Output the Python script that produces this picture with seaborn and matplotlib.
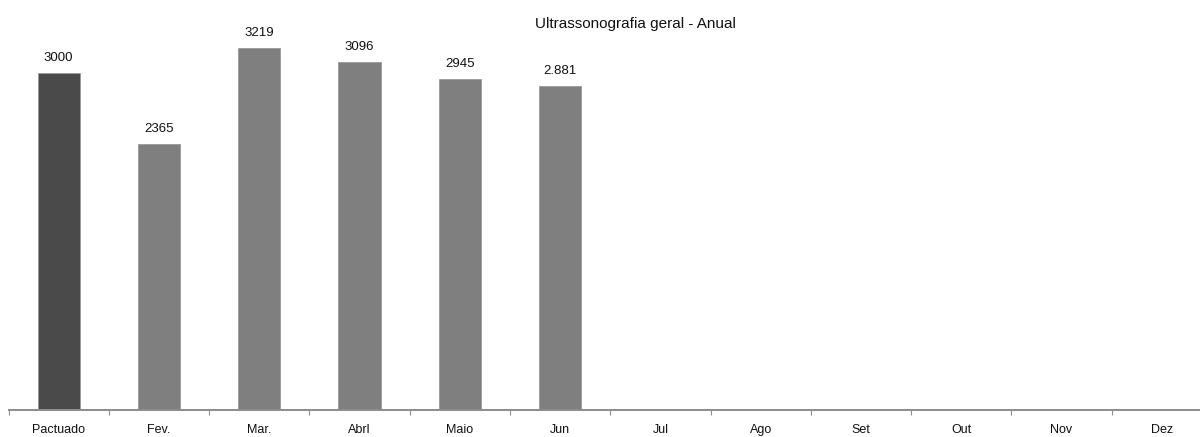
import numpy as np
import pandas as pd
import matplotlib
matplotlib.use("Agg")
import matplotlib.pyplot as plt
import seaborn as sns
from matplotlib.ticker import FixedLocator

categories = ["Pactuado", "Fev.", "Mar.", "Abrl", "Maio", "Jun",
              "Jul", "Ago", "Set", "Out", "Nov", "Dez"]
values = [3000, 2365, 3219, 3096, 2945, 2881,
          np.nan, np.nan, np.nan, np.nan, np.nan, np.nan]
value_labels = ["3000", "2365", "3219", "3096", "2945", "2.881",
                "", "", "", "", "", ""]
title = "Ultrassonografia geral - Anual"

sns.set_theme(style="white")
plt.rcParams['font.family'] = ['Liberation Sans', 'DejaVu Sans']

df = pd.DataFrame({"cat": categories, "val": values})
colors = {c: ("#4a4a4a" if i == 0 else "#7f7f7f") for i, c in enumerate(categories)}

ymax = 3500
px_per_unit = 337 / 3000
ax_h = ymax * px_per_unit

fig = plt.figure(figsize=(12, 4.37), dpi=100)
ax = fig.add_axes([8.5 / 1200, 27 / 437, (1212 - 8.5) / 1200, ax_h / 437])
sns.barplot(data=df, x="cat", y="val", hue="cat", palette=colors, order=categories,
            hue_order=categories, legend=False, width=0.42, ax=ax,
            edgecolor="#9a9a9a", linewidth=0.6, dodge=False)

ax.set_ylim(0, ymax)
ax.set_xlim(-0.5, len(categories) - 0.5)
ax.set_xlabel("")
ax.set_ylabel("")
ax.set_yticks([])
for s in ["top", "right", "left"]:
    ax.spines[s].set_visible(False)
ax.spines["bottom"].set_color("#8c8c8c")
ax.spines["bottom"].set_linewidth(1.4)

ax.set_xticks(range(len(categories)))
ax.set_xticklabels(categories, fontsize=9, color="#111111")
ax.tick_params(axis="x", which="major", length=0, pad=10)
ax.xaxis.set_minor_locator(FixedLocator(np.arange(-0.5, len(categories), 1.0)))
ax.tick_params(axis="x", which="minor", length=3.5, width=0.8, color="#8c8c8c", bottom=True)

for i, (v, lab) in enumerate(zip(values, value_labels)):
    if not np.isnan(v) and lab:
        ax.text(i, v + 9 / px_per_unit, lab, ha="center", va="bottom", fontsize=9.5, color="#111111")

fig.text(635 / 1200, 1 - 24 / 437, title, ha="center", va="center", fontsize=11, color="#111111")

fig.savefig("out.png", dpi=100)
